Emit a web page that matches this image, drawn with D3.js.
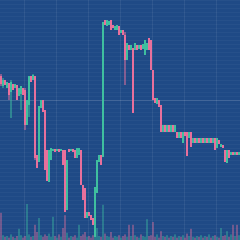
<!DOCTYPE html>
<html>
<head>
<meta charset="utf-8">
<script src="https://cdn.jsdelivr.net/npm/d3@7"></script>
<style>
html, body { margin: 0; padding: 0; background: #1f4a86; }
svg { display: block; }
</style>
</head>
<body>
<svg id="chart" width="240" height="240"></svg>
<script>
// candle values, one entry per bar
var openPrice = [82, 77, 80, 76, 78.5, 74, 78, 76, 77.5, 72, 73, 76, 75, 57.5, 67.5, 82, 80, 82, 42.5, 39,
    66, 70, 65, 45, 29, 40, 44.5, 45.5, 44.5, 45.5, 44.5, 45, 45, 15, 45.5, 44.5, 45.5, 45, 41, 42.5,
    45, 27.5, 26, 11, 14, 12.5, 11, 1.5, 23.5, 39, 42.5, 41.5, 110, 107, 107.5, 110, 107.5, 105, 105, 107,
    103.5, 105, 102.5, 90, 97.5, 95, 96, 95, 97.5, 95.5, 97.5, 95.5, 92.5, 95, 101, 100, 85, 71, 68, 70,
    67.5, 54, 57.5, 54, 57.5, 54, 57.5, 54, 54, 51, 54, 48.5, 54, 54, 51, 54, 48.5, 51, 48.5, 51,
    48.5, 51, 48.5, 51, 48.5, 51, 48.5, 51, 46, 50, 46.5, 47.5, 45, 38.5, 45, 42.5, 44, 42.5, 44, 42.5];
var closePrice = [78, 80, 77.5, 79, 72.5, 79, 75, 78, 70, 76, 77, 72.5, 57.5, 70, 82, 79, 82.5, 41, 36, 67,
    70, 64, 35, 29.5, 45, 46, 45.5, 44, 45.5, 44, 45.5, 37.5, 14, 40, 44, 45.5, 44, 41, 46, 46,
    27.5, 20, 11, 14, 12, 10, 7.5, 26.5, 40, 42.5, 37.5, 109, 107.5, 110, 109.5, 105, 106, 107, 107.5, 102.5,
    105, 102.5, 90, 98.5, 95, 97.5, 63.5, 98.5, 95, 97.5, 95, 98, 100, 98.5, 95, 85, 70, 68.5, 71, 66.5,
    54, 57.5, 54, 57.5, 54, 57.5, 54, 57.5, 51, 54, 51, 54, 52, 42, 54, 46.5, 51, 48.5, 51, 48.5,
    51, 48.5, 51, 48.5, 51, 48.5, 51, 45, 51, 48, 48, 46, 39, 45, 41, 44, 42.5, 44, 42.5, 44];
var highPrice = [83, 81, 80, 79, 78.5, 80, 78, 78, 77.5, 76, 77, 76, 76, 70, 82, 82, 83, 82, 42.5, 67,
    70, 70, 65, 45, 45, 46, 45.5, 45.5, 45.5, 45.5, 45.5, 45, 45, 40, 45.5, 45.5, 45.5, 45, 46, 46,
    45, 27.5, 26, 14, 14, 12.5, 11, 26.5, 40, 42.5, 42.5, 109, 110, 110, 109.5, 110, 107.5, 107, 107.5, 107,
    105, 105, 104, 98.5, 97.5, 97.5, 96, 98.5, 97.5, 97.5, 97.5, 98, 100, 98.5, 101, 100, 85, 71, 71, 70,
    67.5, 57.5, 57.5, 57.5, 57.5, 57.5, 57.5, 57.5, 54, 54, 54, 54, 54, 54, 54, 54, 51, 51, 51, 51,
    51, 51, 51, 51, 51, 51, 51, 51, 51, 50, 48, 47.5, 45, 45, 45, 44, 44, 44, 44, 44];
var lowPrice = [77, 76, 77.5, 76, 70, 61, 75, 76, 70, 72, 65, 72.5, 55, 57.5, 61.5, 79, 80, 40, 36, 39,
    66, 64, 35, 29.5, 29, 40, 44.5, 44, 44.5, 44, 44.5, 37.5, 14, 15, 44, 44.5, 44, 41, 41, 42.5,
    27.5, 20, 11, 11, 12, 10, 7.5, 1.5, 23.5, 39, 37.5, 41.5, 107.5, 107, 107.5, 105, 106, 105, 105, 102.5,
    103.5, 102.5, 77.5, 90, 95, 95, 63.5, 95, 95, 95.5, 95, 95.5, 92.5, 95, 95, 85, 70, 68.5, 68, 66.5,
    54, 54, 54, 54, 54, 54, 54, 54, 51, 51, 51, 48.5, 52, 42, 51, 46.5, 48.5, 48.5, 48.5, 48.5,
    48.5, 48.5, 48.5, 48.5, 48.5, 48.5, 48.5, 45, 46, 48, 46.5, 46, 39, 38.5, 41, 42.5, 42.5, 42.5, 42.5, 42.5];
var volume = [68, 12, 8, 10, 6, 14, 8, 5, 10, 28, 12, 6, 10, 90, 14, 8, 10, 38, 20, 55,
    12, 8, 14, 10, 16, 8, 58, 10, 6, 14, 8, 30, 62, 18, 6, 10, 8, 12, 6, 38,
    10, 14, 20, 8, 10, 6, 12, 14, 30, 10, 8, 88, 16, 10, 8, 20, 6, 10, 8, 12,
    6, 10, 14, 8, 38, 10, 38, 12, 8, 6, 14, 10, 8, 52, 10, 12, 45, 8, 14, 6,
    22, 10, 8, 12, 6, 10, 8, 14, 6, 10, 8, 12, 6, 16, 10, 28, 8, 6, 10, 8,
    12, 6, 10, 8, 14, 6, 10, 12, 8, 6, 30, 10, 12, 22, 8, 14, 38, 10, 38, 12];
var markPrice = 70;

var width = 240;
var height = 240;
var upColor = "#3fbf9f";
var downColor = "#e8709c";

function main() {
    var svg = d3.select("#chart");
    var n = openPrice.length;

    var x = d3.scaleBand().domain(d3.range(n)).range([0, width]).padding(0);
    var y = d3.scaleLinear().domain([0, 120]).range([height, 0]);
    var yVol = d3.scaleLinear().domain([0, 100]).range([height, 200]);

    svg.append("rect")
        .attr("width", width)
        .attr("height", height)
        .attr("fill", "#1f4a86");

    // fine horizontal grid
    svg.append("g")
        .call(d3.axisLeft(y).tickValues(d3.range(0, 121, 2)).tickSize(-width).tickFormat(""))
        .call(function(g) { g.select(".domain").remove(); })
        .selectAll("line")
        .attr("stroke", "#ffffff")
        .attr("stroke-opacity", 0.035);

    // vertical grid every 16 bars
    var vIdx = d3.range(12, n, 16);
    svg.append("g").selectAll("line")
        .data(vIdx)
        .join("line")
        .attr("x1", function(i) { return x(i) + 0.5; })
        .attr("x2", function(i) { return x(i) + 0.5; })
        .attr("y1", 0)
        .attr("y2", height)
        .attr("stroke", "#ffffff")
        .attr("stroke-opacity", 0.07);

    svg.append("line")
        .attr("x1", 0)
        .attr("x2", width)
        .attr("y1", y(markPrice) + 0.5)
        .attr("y2", y(markPrice) + 0.5)
        .attr("stroke", "#ffffff")
        .attr("stroke-opacity", 0.13);

    var idx = d3.range(n);
    function col(i) { return closePrice[i] >= openPrice[i] ? upColor : downColor; }

    // volume
    svg.append("g").selectAll("rect")
        .data(idx)
        .join("rect")
        .attr("x", function(i) { return x(i); })
        .attr("width", x.bandwidth())
        .attr("y", function(i) { return yVol(volume[i]); })
        .attr("height", function(i) { return height - yVol(volume[i]); })
        .attr("fill", col)
        .attr("fill-opacity", 0.4);

    var candle = svg.append("g").selectAll("g")
        .data(idx)
        .join("g");

    candle.append("line")
        .attr("x1", function(i) { return x(i) + x.bandwidth() / 2; })
        .attr("x2", function(i) { return x(i) + x.bandwidth() / 2; })
        .attr("y1", function(i) { return y(highPrice[i]); })
        .attr("y2", function(i) { return y(lowPrice[i]); })
        .attr("stroke", col)
        .attr("stroke-width", 1);

    candle.append("rect")
        .attr("x", function(i) { return x(i); })
        .attr("width", x.bandwidth())
        .attr("y", function(i) { return y(Math.max(openPrice[i], closePrice[i])); })
        .attr("height", function(i) {
            return Math.max(1, Math.abs(y(openPrice[i]) - y(closePrice[i])));
        })
        .attr("fill", col);
}

main();
</script>
</body>
</html>
